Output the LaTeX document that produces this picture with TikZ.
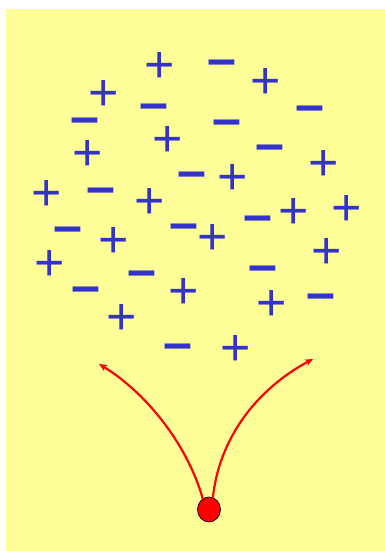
\documentclass[tikz,border=0pt]{standalone}
\usepackage{fontspec}
\setmainfont{Liberation Sans}
\usetikzlibrary{arrows.meta,shapes.geometric}
\definecolor{bgyellow}{HTML}{FFFF99}
\definecolor{chargeblue}{HTML}{3333CC}
\definecolor{arrowred}{HTML}{FF0000}
\tikzset{
  pl/.style={text=chargeblue, inner sep=0pt, anchor=base, font=\fontsize{52}{52}\selectfont, yshift=-18.6pt},
  mi/.style={text=chargeblue, inner sep=0pt, anchor=base, font=\fontsize{52}{52}\selectfont\bfseries, yshift=-13.2pt},
  path/.style={draw=arrowred, line width=2.2pt, -{Stealth[length=8pt,width=7pt]}},
  ball/.style={ellipse, fill=arrowred, draw=black, line width=0.7pt, minimum width=23pt, minimum height=25pt, inner sep=0pt}
}
\begin{document}
\begin{tikzpicture}[x=1pt,y=-1pt]
\useasboundingbox (0,0) rectangle (385,551);
\fill[bgyellow] (6,9) rectangle (385,551);
% plus charges
\node[pl] (p1) at (160,64) {+};
\node[pl] (p2) at (266,80) {+};
\node[pl] (p3) at (104,92) {+};
\node[pl] (p4) at (168,138) {+};
\node[pl] (p5) at (88,152) {+};
\node[pl] (p6) at (324,162) {+};
\node[pl] (p7) at (233,176) {+};
\node[pl] (p8) at (47,192) {+};
\node[pl] (p9) at (150,200) {+};
\node[pl] (p10) at (294,210) {+};
\node[pl] (p11) at (347,207) {+};
\node[pl] (p12) at (114,239) {+};
\node[pl] (p13) at (213,236) {+};
\node[pl] (p14) at (327,250) {+};
\node[pl] (p15) at (50,262) {+};
\node[pl] (p16) at (184,290) {+};
\node[pl] (p17) at (272,302) {+};
\node[pl] (p18) at (122,316) {+};
\node[pl] (p19) at (236,347) {+};
% minus charges
\node[mi] (m1) at (222,63) {–};
\node[mi] (m2) at (154,107) {–};
\node[mi] (m3) at (310,109) {–};
\node[mi] (m4) at (85,121) {–};
\node[mi] (m5) at (227,123) {–};
\node[mi] (m6) at (270,148) {–};
\node[mi] (m7) at (192,175) {–};
\node[mi] (m8) at (101,191) {–};
\node[mi] (m9) at (68,230) {–};
\node[mi] (m10) at (184,227) {–};
\node[mi] (m11) at (258,219) {–};
\node[mi] (m12) at (142,274) {–};
\node[mi] (m13) at (263,269) {–};
\node[mi] (m14) at (86,290) {–};
\node[mi] (m15) at (321,297) {–};
\node[mi] (m16) at (178,347) {–};
% particle and its two paths
\node[ball] (c) at (209,509.5) {};
\coordinate (tl) at (99,364);
\coordinate (tr) at (313,359);
\draw[path] (c.120) .. controls (186,440) and (142,390) .. (tl);
\draw[path] (c.72) .. controls (219,440) and (255,390) .. (tr);
\end{tikzpicture}
\end{document}
